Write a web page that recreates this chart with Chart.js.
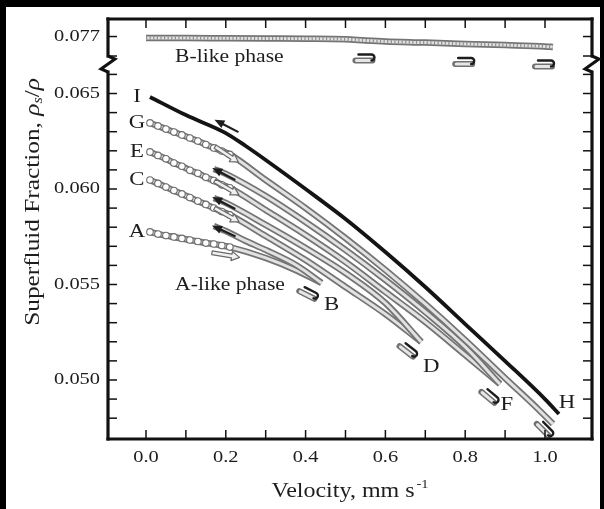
<!DOCTYPE html>
<html>
<head>
<meta charset="utf-8">
<script src="https://cdn.jsdelivr.net/npm/chart.js@4.4.1/dist/chart.umd.min.js"></script>
<style>
  html, body { margin: 0; padding: 0; background: #000; }
  canvas { display: block; }
</style>
</head>
<body>
<canvas id="fig" width="604" height="509"></canvas>
<script>
// Superfluid fraction vs. velocity: hysteresis sweeps A..I, B-like branch on a broken top axis

const xTickLabels = ['0.0', '0.2', '0.4', '0.6', '0.8', '1.0'];
const yTickLabels = ['0.050', '0.055', '0.060', '0.065'];
const yTopTickLabels = ['0.077'];

// B-like phase (upper, broken section)
const velB  = [0.0, 0.1, 0.2, 0.3, 0.4, 0.5, 0.55, 0.6, 0.7, 0.8, 0.9, 1.0, 1.02];
const fracB = [0.07692, 0.07692, 0.07691, 0.07690, 0.07689, 0.07686, 0.07680, 0.07675, 0.07669, 0.07662, 0.07656, 0.07649, 0.07646];

// return I (solid)
const velI  = [0.01, 0.10, 0.20, 0.25, 0.30, 0.40, 0.50, 0.60, 0.70, 0.80, 0.90, 1.00, 1.035];
const fracI = [0.06482, 0.06387, 0.06293, 0.06225, 0.06152, 0.06000, 0.05843, 0.05670, 0.05487, 0.05293, 0.05099, 0.04900, 0.04822];

// up sweeps G->H, E->F, C->D, A->B (open circles)
const velG  = [0.01, 0.03, 0.05, 0.07, 0.09, 0.11, 0.13, 0.15, 0.17, 0.19, 0.21, 0.30, 0.40, 0.50, 0.60, 0.70, 0.80, 0.90, 0.985, 1.02];
const fracG = [0.06346, 0.06330, 0.06314, 0.06298, 0.06283, 0.06267, 0.06251, 0.06233, 0.06215, 0.06199, 0.06181, 0.06047, 0.05900, 0.05743, 0.05576, 0.05398, 0.05209, 0.05010, 0.04843, 0.04770];

const velE  = [0.01, 0.03, 0.05, 0.07, 0.09, 0.11, 0.13, 0.15, 0.17, 0.19, 0.21, 0.30, 0.40, 0.50, 0.60, 0.70, 0.80, 0.887];
const fracE = [0.06194, 0.06176, 0.06158, 0.06136, 0.06119, 0.06098, 0.06082, 0.06061, 0.06044, 0.06022, 0.06006, 0.05890, 0.05759, 0.05618, 0.05461, 0.05304, 0.05131, 0.04979];

const velC  = [0.01, 0.03, 0.05, 0.07, 0.09, 0.11, 0.13, 0.15, 0.17, 0.19, 0.21, 0.30, 0.40, 0.50, 0.60, 0.69];
const fracC = [0.06047, 0.06029, 0.06010, 0.05992, 0.05974, 0.05955, 0.05937, 0.05919, 0.05900, 0.05882, 0.05864, 0.05754, 0.05628, 0.05487, 0.05345, 0.05199];

const velA  = [0.01, 0.03, 0.05, 0.07, 0.09, 0.11, 0.13, 0.15, 0.17, 0.19, 0.21, 0.30, 0.38, 0.44];
const fracA = [0.05775, 0.05764, 0.05756, 0.05749, 0.05741, 0.05733, 0.05725, 0.05717, 0.05712, 0.05704, 0.05696, 0.05639, 0.05571, 0.05508];

// down sweeps F->G, D->E, B->C (visible part, v >= 0.17)
const velFG  = [0.17, 0.20, 0.30, 0.40, 0.50, 0.60, 0.70, 0.80, 0.887];
const fracFG = [0.06105, 0.06079, 0.05963, 0.05827, 0.05681, 0.05524, 0.05356, 0.05173, 0.04979];

const velDE  = [0.17, 0.20, 0.30, 0.40, 0.50, 0.60, 0.69];
const fracDE = [0.05953, 0.05927, 0.05812, 0.05691, 0.05560, 0.05403, 0.05199];

const velBC  = [0.17, 0.20, 0.25, 0.30, 0.38, 0.44];
const fracBC = [0.05806, 0.05780, 0.05728, 0.05681, 0.05597, 0.05508];

const SERIF = '"Liberation Serif", "Times New Roman", serif';
const INK = '#1d1d1d';
const SX = 1.2; // glyphs are printed a bit wide

function pts(vel, frac) { return vel.map((v, i) => ({ x: v, y: frac[i] })); }

const datasets = [];
let ord = 100;
function addTube(vel, frac, axis, dots) {
  const data = pts(vel, frac);
  datasets.push({ data, yAxisID: axis, showLine: true, borderColor: '#747474', borderWidth: 6.5,
    pointRadius: 0, cubicInterpolationMode: 'monotone', order: ord-- });
  datasets.push({ data, yAxisID: axis, showLine: true, borderColor: '#e2e2e2', borderWidth: 3,
    pointRadius: dots ? (c => (c.raw && c.raw.x <= 0.215 ? 3.3 : 0)) : 0,
    pointBackgroundColor: '#fff', pointBorderColor: '#6d6d6d', pointBorderWidth: 1.1,
    cubicInterpolationMode: 'monotone', order: ord-- });
  return datasets.length - 1;
}

const idxB = addTube(velB, fracB, 'yTop', false);
datasets.push({ data: pts(velB, fracB), yAxisID: 'yTop', showLine: true, borderColor: '#8e8e8e',
  borderWidth: 3, borderDash: [1.2, 2.4], pointRadius: 0, cubicInterpolationMode: 'monotone', order: ord-- });

// drawn bottom to top: each up sweep, then the return that runs above it
const sweeps = [];
sweeps.push({ tag: 'A', end: 'B', ds: addTube(velA, fracA, 'y', true), endOff: [10, 22], iconOff: [-12, 10] });
const retBC = addTube(velBC, fracBC, 'y', false);
sweeps.push({ tag: 'C', end: 'D', ds: addTube(velC, fracC, 'y', true), endOff: [10, 25], iconOff: [-12, 8], back: retBC });
const retDE = addTube(velDE, fracDE, 'y', false);
sweeps.push({ tag: 'E', end: 'F', ds: addTube(velE, fracE, 'y', true), endOff: [7, 21], iconOff: [-9, 12], back: retDE });
const retFG = addTube(velFG, fracFG, 'y', false);
sweeps.push({ tag: 'G', end: 'H', ds: addTube(velG, fracG, 'y', true), endOff: null, iconOff: [-7, 5], back: retFG });

datasets.push({ data: pts(velI, fracI), yAxisID: 'y', showLine: true, borderColor: '#141414', borderWidth: 3.8,
  pointRadius: 0, cubicInterpolationMode: 'monotone', order: 1 });
const idxI = datasets.length - 1;

function txt(ctx, s, x, y, size, opt) {
  const o = Object.assign({ align: 'center', italic: false, sx: SX }, opt || {});
  ctx.save();
  ctx.font = (o.italic ? 'italic ' : '') + size + 'px ' + SERIF;
  ctx.textAlign = o.align;
  ctx.textBaseline = 'middle';
  ctx.fillStyle = INK;
  ctx.translate(x, y);
  ctx.scale(o.sx, 1);
  ctx.fillText(s, 0, 0);
  ctx.restore();
}

function seg(ctx, x1, y1, x2, y2) { ctx.beginPath(); ctx.moveTo(x1, y1); ctx.lineTo(x2, y2); ctx.stroke(); }

function tangentAt(meta, i) {
  const a = meta.data[Math.max(0, i - 1)], b = meta.data[Math.min(meta.data.length - 1, i + 1)];
  return Math.atan2(b.y - a.y, b.x - a.x);
}

function solidArrow(ctx, x, y, ang, len) {
  ctx.save(); ctx.translate(x, y); ctx.rotate(ang);
  ctx.strokeStyle = INK; ctx.fillStyle = INK; ctx.lineWidth = 2.2;
  seg(ctx, -len / 2, 0, len / 2 - 6, 0);
  ctx.beginPath(); ctx.moveTo(len / 2, 0); ctx.lineTo(len / 2 - 10, -4.2); ctx.lineTo(len / 2 - 10, 4.2); ctx.closePath(); ctx.fill();
  ctx.restore();
}

function hollowArrow(ctx, x, y, ang, len) {
  const h = len / 2;
  ctx.save(); ctx.translate(x, y); ctx.rotate(ang);
  ctx.lineJoin = 'round';
  ctx.beginPath();
  ctx.moveTo(-h, -1.9); ctx.lineTo(h - 8, -1.9); ctx.lineTo(h - 8, -4.6); ctx.lineTo(h, 0);
  ctx.lineTo(h - 8, 4.6); ctx.lineTo(h - 8, 1.9); ctx.lineTo(-h, 1.9); ctx.closePath();
  ctx.fillStyle = '#f0f0f0'; ctx.fill();
  ctx.strokeStyle = '#6a6a6a'; ctx.lineWidth = 1.2; ctx.stroke();
  ctx.restore();
}

// out-and-back marker: black leg hooks round into a hollow grey return leg
function uTurn(ctx, x, y, ang) {
  ctx.save(); ctx.translate(x, y); ctx.rotate(ang);
  ctx.lineCap = 'round';
  ctx.strokeStyle = '#707070'; ctx.lineWidth = 6; seg(ctx, -10, 3, 7, 3);
  ctx.strokeStyle = '#e6e6e6'; ctx.lineWidth = 3; seg(ctx, -9, 3, 6, 3);
  ctx.strokeStyle = INK; ctx.lineWidth = 2.4;
  ctx.beginPath(); ctx.moveTo(-7, -3); ctx.lineTo(6, -3); ctx.arc(6, 0, 3, -Math.PI / 2, Math.PI / 2); ctx.stroke();
  ctx.restore();
}

const paper = {
  id: 'paper',
  beforeDraw(chart) {
    const ctx = chart.ctx;
    ctx.save();
    ctx.fillStyle = '#000'; ctx.fillRect(0, 0, chart.width, chart.height);
    ctx.fillStyle = '#fff'; ctx.fillRect(6, 7, 594, 502);
    ctx.restore();
  }
};

const decor = {
  id: 'decor',
  afterDatasetsDraw(chart) {
    const ctx = chart.ctx, ca = chart.chartArea;
    const sx = chart.scales.x, sy = chart.scales.y, st = chart.scales.yTop;
    const brk = sy.top;

    // direction arrows near v = 0.2
    const mI = chart.getDatasetMeta(idxI);
    {
      const p = mI.data[2], a = tangentAt(mI, 2);
      solidArrow(ctx, p.x - 3 + 8 * Math.sin(a), p.y - 8 * Math.cos(a), a + Math.PI, 27);
    }
    sweeps.forEach(s => {
      const m = chart.getDatasetMeta(s.ds);
      const p = m.data[10], a = tangentAt(m, 10);
      if (s.tag === 'A') {
        hollowArrow(ctx, p.x - 4, p.y + 8, a * 0.6, 28);
      } else {
        hollowArrow(ctx, p.x - 3, p.y, a, 28);
      }
      if (s.back !== undefined) {
        const mb = chart.getDatasetMeta(s.back);
        const q = mb.data[1], b = tangentAt(mb, 1);
        solidArrow(ctx, q.x - 2, q.y, b + Math.PI, 26);
      }
    });

    // out-and-back markers at the sweep ends and along the B-like branch
    const mB = chart.getDatasetMeta(idxB);
    [6, 9, 11].forEach(i => { const p = mB.data[i]; uTurn(ctx, p.x, p.y + 17, 0); });
    sweeps.forEach(s => {
      const m = chart.getDatasetMeta(s.ds);
      const n = m.data.length - 1, p = m.data[n], a = tangentAt(m, n);
      uTurn(ctx, p.x + s.iconOff[0], p.y + s.iconOff[1], a);
    });

    // curve letters
    const pI0 = mI.data[0];
    txt(ctx, 'I', pI0.x - 13, pI0.y, 19);
    const pIn = mI.data[mI.data.length - 1];
    txt(ctx, 'H', pIn.x + 8, pIn.y - 11, 19);
    sweeps.forEach(s => {
      const m = chart.getDatasetMeta(s.ds);
      const p0 = m.data[0];
      txt(ctx, s.tag, p0.x - 13, p0.y, 19);
      if (s.endOff) {
        const pn = m.data[m.data.length - 1];
        txt(ctx, s.end, pn.x + s.endOff[0], pn.y + s.endOff[1], 19);
      }
    });

    txt(ctx, 'B-like phase', sx.getPixelForValue(0.073), st.getPixelForValue(0.07595), 18, { align: 'left' });
    txt(ctx, 'A-like phase', sx.getPixelForValue(0.073), sy.getPixelForValue(0.05497), 18, { align: 'left' });

    // frame with the axis break
    ctx.save();
    ctx.strokeStyle = '#111'; ctx.lineWidth = 3.2; ctx.lineCap = 'square';
    seg(ctx, ca.left, ca.top, ca.right, ca.top);
    seg(ctx, ca.left, ca.bottom, ca.right, ca.bottom);
    [ca.left, ca.right].forEach(xx => {
      seg(ctx, xx, ca.top, xx, brk - 8);
      seg(ctx, xx, brk + 8, xx, ca.bottom);
    });
    ctx.lineCap = 'butt'; ctx.lineJoin = 'miter'; ctx.lineWidth = 3;
    [ca.left, ca.right].forEach(xx => {
      ctx.beginPath();
      ctx.moveTo(xx, brk - 8); ctx.lineTo(xx + 7, brk - 5); ctx.lineTo(xx - 7, brk + 5); ctx.lineTo(xx, brk + 8);
      ctx.stroke();
    });

    // inward ticks on all four sides
    ctx.lineWidth = 1.5;
    sx.ticks.forEach(t => {
      if (t.value < -0.001 || t.value > 1.001) return;
      const px = sx.getPixelForValue(t.value);
      seg(ctx, px, ca.bottom, px, ca.bottom - 9);
      seg(ctx, px, ca.top, px, ca.top + 9);
    });
    [sy, st].forEach(s => {
      s.ticks.forEach(t => {
        const py = s.getPixelForValue(t.value);
        if (py < s.top + 2 || py > s.bottom - 2) return;
        seg(ctx, ca.left, py, ca.left + 9, py);
        seg(ctx, ca.right, py, ca.right - 9, py);
      });
    });
    ctx.restore();

    // tick labels
    xTickLabels.forEach(l => txt(ctx, l, sx.getPixelForValue(parseFloat(l)), ca.bottom + 19, 17));
    yTickLabels.forEach(l => txt(ctx, l, ca.left - 8, sy.getPixelForValue(parseFloat(l)), 17, { align: 'right' }));
    yTopTickLabels.forEach(l => txt(ctx, l, ca.left - 8, st.getPixelForValue(parseFloat(l)), 17, { align: 'right' }));

    // axis titles
    const xc = (ca.left + ca.right) / 2;
    ctx.save();
    ctx.font = '20px ' + SERIF;
    const w1 = ctx.measureText('Velocity, mm s').width * SX;
    ctx.font = '12px ' + SERIF;
    const w2 = ctx.measureText('-1').width * SX;
    ctx.restore();
    const x0 = xc - (w1 + w2 + 2) / 2;
    txt(ctx, 'Velocity, mm s', x0, 492, 20, { align: 'left' });
    txt(ctx, '-1', x0 + w1 + 2, 485, 12, { align: 'left' });

    ctx.save();
    ctx.translate(33, 202);
    ctx.rotate(-Math.PI / 2);
    ctx.scale(1.15, 1);
    const runs = [
      { s: 'Superfluid Fraction, ', f: '22px ' + SERIF, dy: 0 },
      { s: 'ρ', f: 'italic 22px ' + SERIF, dy: 0 },
      { s: 's', f: 'italic 14px ' + SERIF, dy: 5 },
      { s: '/', f: '22px ' + SERIF, dy: 0 },
      { s: 'ρ', f: 'italic 22px ' + SERIF, dy: 0 },
    ];
    let total = 0;
    runs.forEach(r => { ctx.font = r.f; r.w = ctx.measureText(r.s).width; total += r.w; });
    let cx = -total / 2;
    ctx.fillStyle = INK; ctx.textBaseline = 'middle'; ctx.textAlign = 'left';
    runs.forEach(r => { ctx.font = r.f; ctx.fillText(r.s, cx, r.dy); cx += r.w; });
    ctx.restore();
  }
};

const hidden = { display: false };

new Chart(document.getElementById('fig'), {
  type: 'scatter',
  data: { datasets },
  options: {
    responsive: false,
    animation: false,
    devicePixelRatio: 1,
    events: [],
    layout: { padding: { left: 0, right: 12, top: 19, bottom: 4 } },
    plugins: { legend: hidden, tooltip: { enabled: false } },
    scales: {
      x: {
        type: 'linear', min: -0.0952, max: 1.1178,
        grid: hidden, border: hidden,
        ticks: { display: false, stepSize: 0.1, includeBounds: false },
        afterFit: s => { s.height = 66; }
      },
      yTop: {
        type: 'linear', position: 'left', stack: 'frac', stackWeight: 45, weight: 2,
        min: 0.07559, max: 0.0779,
        grid: hidden, border: hidden,
        ticks: { display: false, stepSize: 0.001, includeBounds: false, autoSkip: false },
        afterFit: s => { s.width = 108; }
      },
      y: {
        type: 'linear', position: 'left', stack: 'frac', stackWeight: 375, weight: 1,
        min: 0.04691, max: 0.066545,
        grid: hidden, border: hidden,
        ticks: { display: false, stepSize: 0.001, includeBounds: false, autoSkip: false },
        afterFit: s => { s.width = 108; }
      }
    }
  },
  plugins: [paper, decor]
});
</script>
</body>
</html>
